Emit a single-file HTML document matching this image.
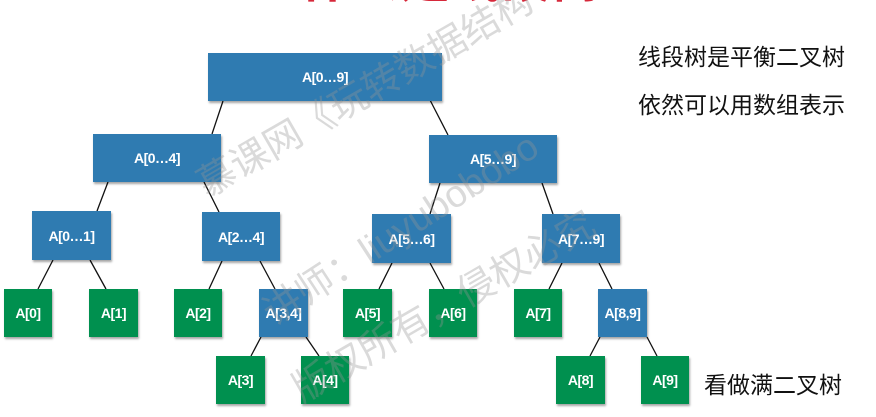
<!DOCTYPE html>
<html><head><meta charset="utf-8"><style>
body{margin:0;width:876px;height:417px;background:#fff;position:relative;overflow:hidden;font-family:"Liberation Sans","Noto Sans CJK SC",sans-serif}
.n{position:absolute;color:#fff;font-weight:bold;font-size:14px;display:flex;align-items:center;justify-content:center;box-shadow:1px 2px 2px rgba(0,0,0,0.35);letter-spacing:-0.5px}
.b{background:#2f7bb1}.g{background:#00904f}
.t{position:absolute;font-size:23px;color:#111;white-space:nowrap}
svg{position:absolute;left:0;top:0}
.w{position:absolute;transform-origin:left top;font-size:38px;color:rgba(150,150,150,0.35);white-space:nowrap}
</style></head><body>
<div style="position:absolute;left:300px;top:-60px;font-size:50px;color:#d6283a;font-weight:bold;white-space:nowrap">什么是线段树</div>
<svg width="876" height="417" stroke="#111" stroke-width="1.3">
<line x1="223" y1="101" x2="212" y2="134"/><line x1="430" y1="100" x2="448" y2="135"/>
<line x1="108" y1="182" x2="97" y2="211"/><line x1="204" y1="182" x2="219" y2="212"/>
<line x1="440" y1="183" x2="430" y2="214"/><line x1="542" y1="183" x2="553" y2="214"/>
<line x1="53" y1="260" x2="38" y2="289"/><line x1="90" y1="260" x2="106" y2="289"/>
<line x1="222" y1="261" x2="209" y2="289"/><line x1="260" y1="261" x2="275" y2="289"/>
<line x1="392" y1="263" x2="379" y2="289"/><line x1="430" y1="263" x2="444" y2="289"/>
<line x1="562" y1="263" x2="549" y2="289"/><line x1="599" y1="263" x2="612" y2="289"/>
<line x1="261" y1="337" x2="251" y2="356"/><line x1="306" y1="337" x2="319" y2="356"/>
<line x1="600" y1="337" x2="590" y2="356"/><line x1="647" y1="337" x2="657" y2="356"/>
</svg>
<div class="n b" style="left:208px;top:53px;width:234px;height:48px">A[0…9]</div>
<div class="n b" style="left:93px;top:134px;width:128px;height:48px">A[0…4]</div>
<div class="n b" style="left:429px;top:135px;width:128px;height:48px">A[5…9]</div>
<div class="n b" style="left:32px;top:211px;width:79px;height:49px">A[0…1]</div>
<div class="n b" style="left:202px;top:212px;width:78px;height:49px">A[2…4]</div>
<div class="n b" style="left:372px;top:214px;width:79px;height:49px">A[5…6]</div>
<div class="n b" style="left:542px;top:214px;width:78px;height:49px">A[7…9]</div>
<div class="n g" style="left:4px;top:289px;width:48px;height:48px">A[0]</div>
<div class="n g" style="left:89px;top:289px;width:49px;height:48px">A[1]</div>
<div class="n g" style="left:174px;top:289px;width:48px;height:48px">A[2]</div>
<div class="n b" style="left:259px;top:289px;width:49px;height:48px">A[3,4]</div>
<div class="n g" style="left:343px;top:289px;width:49px;height:48px">A[5]</div>
<div class="n g" style="left:429px;top:289px;width:48px;height:48px">A[6]</div>
<div class="n g" style="left:514px;top:289px;width:48px;height:48px">A[7]</div>
<div class="n b" style="left:598px;top:289px;width:49px;height:48px">A[8,9]</div>
<div class="n g" style="left:216px;top:356px;width:49px;height:48px">A[3]</div>
<div class="n g" style="left:301px;top:356px;width:48px;height:48px">A[4]</div>
<div class="n g" style="left:556px;top:356px;width:49px;height:48px">A[8]</div>
<div class="n g" style="left:641px;top:356px;width:48px;height:48px">A[9]</div>
<div class="t" style="left:638px;top:38px">线段树是平衡二叉树</div>
<div class="t" style="left:638px;top:86px">依然可以用数组表示</div>
<div class="t" style="left:704px;top:366px">看做满二叉树</div>
<div class="w" style="left:185px;top:160px;transform:rotate(-30deg)">慕课网《玩转数据结构</div>
<div class="w" style="left:250px;top:290px;transform:rotate(-33deg)">讲师：liuyubobobo</div>
<div class="w" style="left:280px;top:365px;transform:rotate(-30deg)">版权所有，侵权必究</div>
</body></html>
